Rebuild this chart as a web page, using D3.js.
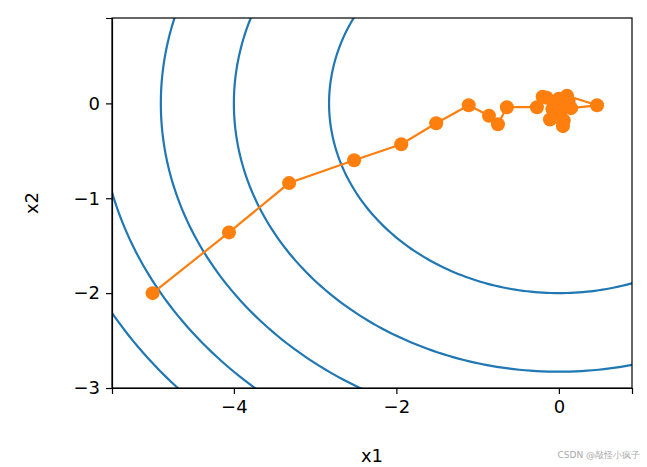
<!DOCTYPE html>
<html><head><meta charset="utf-8">
<script src="https://cdn.jsdelivr.net/npm/d3@7"></script>
<style>body{margin:0;background:#fff}text{font-family:"DejaVu Sans",sans-serif}</style>
</head><body><div id="chart"></div>
<script>
// contour levels of f(x1,x2) = x1^2 + 2*x2^2
var levels = [8, 16, 24, 32, 40];
// SGD trajectory
var x1s = [-5.0, -4.06, -3.32, -2.52, -1.94, -1.51, -1.11, -0.86, -0.75, -0.64, -0.27, -0.2, -0.08, 0.0, 0.05, -0.11, 0.1, 0.47, 0.15, -0.03, 0.02, 0.12, -0.05, 0.0, 0.08, -0.15, 0.06];
var x2s = [-2.0, -1.36, -0.84, -0.60, -0.43, -0.21, -0.02, -0.13, -0.22, -0.04, -0.04, 0.07, -0.06, 0.05, -0.24, -0.17, 0.08, -0.02, -0.05, 0.0, -0.12, 0.02, -0.1, -0.03, 0.04, 0.06, -0.18];
var xTicks = [-4, -2, 0];
var yTicks = [0, -1, -2, -3];

var W = 647, H = 467;
var m = {left: 112, right: 15, top: 18, bottom: 79};
var svg = d3.select("#chart").append("svg").attr("width", W).attr("height", H);
var x = d3.scaleLinear().domain([-5.5, 0.9]).range([m.left, W - m.right]);
var y = d3.scaleLinear().domain([-3, 0.9]).range([H - m.bottom, m.top]);

svg.append("clipPath").attr("id", "clip").append("rect")
  .attr("x", m.left).attr("y", m.top)
  .attr("width", W - m.left - m.right).attr("height", H - m.top - m.bottom);

var g = svg.append("g").attr("clip-path", "url(#clip)");
var line = d3.line().x(d => x(d[0])).y(d => y(d[1]));

levels.forEach(function(c) {
  var pts = d3.range(0, 361).map(function(a) {
    var t = a * Math.PI / 180;
    return [Math.sqrt(c) * Math.cos(t), Math.sqrt(c / 2) * Math.sin(t)];
  });
  g.append("path").attr("d", line(pts)).attr("fill", "none")
    .attr("stroke", "#1f77b4").attr("stroke-width", 2.2);
});

var traj = x1s.map((v, i) => [v, x2s[i]]);
g.append("path").attr("d", line(traj)).attr("fill", "none")
  .attr("stroke", "#ff7f0e").attr("stroke-width", 2.2);
g.selectAll("circle").data(traj).enter().append("circle")
  .attr("cx", d => x(d[0])).attr("cy", d => y(d[1])).attr("r", 7)
  .attr("fill", "#ff7f0e");

var fmt = d => d < 0 ? "\u2212" + Math.abs(d) : d;
var xa = svg.append("g").attr("transform", "translate(0," + (H - m.bottom) + ")")
  .call(d3.axisBottom(x).tickValues(xTicks).tickFormat(fmt).tickSize(6).tickPadding(6));
var ya = svg.append("g").attr("transform", "translate(" + m.left + ",0)")
  .call(d3.axisLeft(y).tickValues(yTicks).tickFormat(fmt).tickSize(6).tickPadding(6));
[xa, ya].forEach(a => { a.selectAll("text").style("font-size", "18px").attr("fill", "#000"); a.selectAll("line,path").attr("stroke", "#000").attr("stroke-width", 1.2); });
svg.append("rect").attr("x", m.left).attr("y", m.top)
  .attr("width", W - m.left - m.right).attr("height", H - m.top - m.bottom)
  .attr("fill", "none").attr("stroke", "#000").attr("stroke-width", 1.2);

svg.append("text").attr("x", (m.left + W - m.right) / 2).attr("y", 462)
  .attr("text-anchor", "middle").style("font-size", "18px").text("x1");
svg.append("text").attr("transform", "translate(38," + ((m.top + H - m.bottom) / 2) + ") rotate(-90)")
  .attr("text-anchor", "middle").style("font-size", "18px").text("x2");
svg.append("text").attr("x", 640).attr("y", 458).attr("text-anchor", "end")
  .style("font-size", "9px").attr("fill", "#aaa").text("CSDN @敲怪小疯子");
</script></body></html>
